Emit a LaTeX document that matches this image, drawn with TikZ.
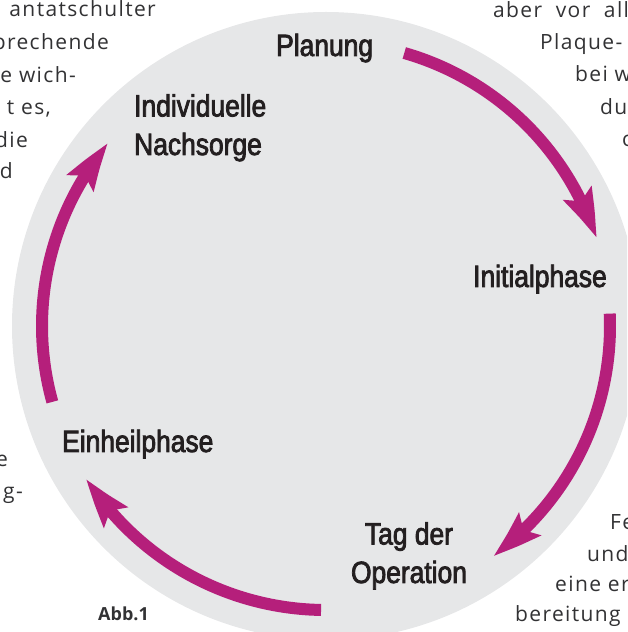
\documentclass[tikz,border=0pt]{standalone}
\usepackage{fontspec}
\usetikzlibrary{arrows.meta, bending, positioning}

\newfontfamily\labelfont[FakeStretch=0.86, FakeBold=2.5]{Liberation Sans}
\newfontfamily\bodyfont[LetterSpace=6.5]{Open Sans}
\newfontfamily\abbfont{Open Sans}

\definecolor{cyclepink}{RGB}{181,31,123}
\definecolor{circlegray}{RGB}{230,231,232}
\definecolor{labelink}{RGB}{35,31,32}
\definecolor{bodyink}{RGB}{50,50,52}

\begin{document}
\begin{tikzpicture}[
    x=1pt, y=1pt,
    phase/.style={font=\labelfont\fontsize{30.7}{38.5}\selectfont, text=labelink, inner sep=0pt},
    cyclearrow/.style={draw=cyclepink, line width=12pt,
        -{Stealth[length=48pt, width=30pt, inset=8pt, bend]}},
    bodyline/.style={font=\bodyfont\fontsize{21}{26}\selectfont, text=bodyink, inner sep=0pt}
]

    \useasboundingbox (0,0) rectangle (627,632);
    \clip (0,0) rectangle (627,632);

    % background disc
    \coordinate (c) at (326,306);
    \fill[circlegray] (c) circle[radius=314];

    % surrounding article text (cut off at the edges)
    \foreach \txt/\xx/\yy [count=\i] in {antatschulter/156/615, prechende/109/582,
        e wich-/76/549, {t es,}/51/517, die/28/484, d/13/453, e/8/165, g-/23/133}
        \node[bodyline, anchor=base east] (lcol\i) at (\xx,\yy) {\txt};
    \foreach \txt/\xx/\yy [count=\i] in {aber\ \ vor\ \ all/493/614, Plaque-/540/582,
        bei w/575/550, du/600/517, c/622/485, Fe/610/102, und/587/70,
        eine er/555/40, bereitung/515/10}
        \node[bodyline, anchor=base west] (rcol\i) at (\xx,\yy) {\txt};

    \node[font=\abbfont\bfseries\fontsize{18}{20}\selectfont, text=bodyink,
        inner sep=0pt, anchor=base west] (abb) at (98,12) {Abb.1};

    % phases (base = last line)
    \node[phase, anchor=base west] (plan) at (276,576) {Planung};
    \node[phase, anchor=base west] (init) at (473,345) {Initialphase};
    \node[phase, anchor=base, align=center] (op) at (409,49) {Tag der\\Operation};
    \node[phase, anchor=base west] (heal) at (62,180) {Einheilphase};
    \node[phase, anchor=base west, align=left] (care) at (134,477) {Individuelle\\Nachsorge};

    % cycle arrows
    \draw[cyclearrow] ([shift={(74:284)}]c) arc[start angle=74, end angle=18, radius=284];
    \draw[cyclearrow] ([shift={(2.5:284)}]c) arc[start angle=2.5, end angle=-54, radius=284];
    \draw[cyclearrow] ([shift={(-91:284)}]c) arc[start angle=-91, end angle=-147.5, radius=284];
    \draw[cyclearrow] ([shift={(195.5:284)}]c) arc[start angle=195.5, end angle=140, radius=284];

\end{tikzpicture}
\end{document}
